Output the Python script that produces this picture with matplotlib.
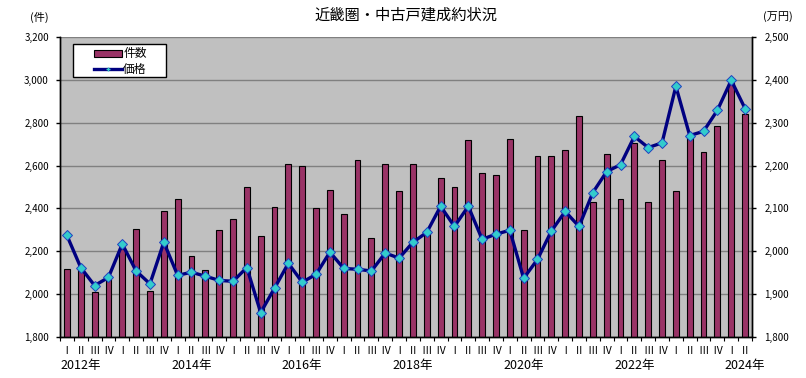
import matplotlib
matplotlib.use("Agg")
import matplotlib.pyplot as plt
from matplotlib.patches import Rectangle, Patch
from matplotlib.lines import Line2D
from matplotlib.ticker import FuncFormatter, MultipleLocator

plt.rcParams['font.family'] = ['Noto Sans CJK JP', 'DejaVu Sans']

years = list(range(2012, 2025))
quarter_labels = ["Ⅰ", "Ⅱ", "Ⅲ", "Ⅳ"]

counts = [2116, 2121, 2009, 2082,
          2210, 2303, 2013, 2387,
          2443, 2177, 2111, 2298,
          2349, 2500, 2270, 2406,
          2607, 2597, 2401, 2485,
          2373, 2625, 2261, 2607,
          2480, 2607, 2285, 2541,
          2502, 2719, 2564, 2555,
          2723, 2298, 2644, 2644,
          2672, 2831, 2429, 2653,
          2444, 2705, 2429, 2625,
          2480, 2740, 2663, 2784,
          2985, 2840]

prices = [2037, 1962, 1920, 1939,
          2017, 1954, 1924, 2021,
          1944, 1951, 1942, 1932,
          1930, 1962, 1857, 1914,
          1972, 1928, 1946, 1998,
          1960, 1958, 1954, 1996,
          1984, 2021, 2044, 2105,
          2058, 2105, 2028, 2040,
          2049, 1937, 1981, 2047,
          2093, 2058, 2137, 2186,
          2202, 2268, 2242, 2253,
          2385, 2270, 2280, 2329,
          2399, 2333]

n = len(counts)
x = list(range(n))
xlabels = [quarter_labels[i % 4] for i in x]
year_label_years = [2012, 2014, 2016, 2018, 2020, 2022, 2024]

W, H = 806, 378
fig = plt.figure(figsize=(W / 100, H / 100), dpi=100)
fig.patch.set_facecolor('white')

L, R, T, B = 60, 752, 37, 337
ax = fig.add_axes([L / W, 1 - B / H, (R - L) / W, (B - T) / H])
ax.set_facecolor('#C0C0C0')
ax2 = ax.twinx()
ax2.patch.set_visible(False)

bar_color = '#993366'
ax.bar(x, counts, width=0.42, color=bar_color, edgecolor='black', linewidth=0.8, zorder=2)
ax.set_ylim(1800, 3200)
ax.set_xlim(-0.5, n - 0.5)
ax.yaxis.set_major_locator(MultipleLocator(200))
ax.yaxis.set_major_formatter(FuncFormatter(lambda v, p: f"{int(v):,}"))
ax.grid(axis='y', color='#808080', linewidth=1.0)
ax.set_axisbelow(True)

ax2.plot(x, prices, color='#000080', linewidth=2.4, marker='D', markersize=5.3,
         markerfacecolor='#33CCCC', markeredgecolor='#2040C0', markeredgewidth=0.7, zorder=3)
ax2.set_ylim(1800, 2500)
ax2.yaxis.set_major_locator(MultipleLocator(100))
ax2.yaxis.set_major_formatter(FuncFormatter(lambda v, p: f"{int(v):,}"))

for a in (ax, ax2):
    a.spines['top'].set_visible(False)
    for s in ('left', 'right', 'bottom'):
        a.spines[s].set_color('black')
        a.spines[s].set_linewidth(1.0)

ax.tick_params(axis='y', direction='out', length=3, width=1, pad=5, labelsize=7, colors='black')
ax2.tick_params(axis='y', direction='out', length=3, width=1, pad=6, labelsize=7, colors='black')

ax.set_xticks(x)
ax.set_xticklabels(xlabels)
ax.tick_params(axis='x', which='major', length=0, pad=6.5, labelsize=7.5)
ax.set_xticks([i - 0.5 for i in range(n + 1)], minor=True)
ax.tick_params(axis='x', which='minor', length=3, width=0.8, direction='out')

for yr in year_label_years:
    idx = (yr - years[0]) * 4 + 1
    if idx < n:
        ax.text(idx, -(366 - B) / (B - T), f"{yr}年", transform=ax.get_xaxis_transform(),
                ha='center', va='center', fontsize=9)

fig.text(406 / W, 1 - 15 / H, "近畿圏・中古戸建成約状況", ha='center', va='center', fontsize=11)
fig.text(39 / W, 1 - 17 / H, "(件)", ha='center', va='center', fontsize=8)
fig.text(778 / W, 1 - 17 / H, "(万円)", ha='center', va='center', fontsize=8)

# legend frame
rect = Rectangle((73 / W, 1 - 77 / H), (166 - 73) / W, (77 - 44) / H, transform=fig.transFigure,
                 facecolor='white', edgecolor='black', linewidth=1.0, zorder=4, clip_on=False)
ax2.add_artist(rect)
handles = [Patch(facecolor=bar_color, edgecolor='black', linewidth=0.8),
           Line2D([], [], color='#000080', linewidth=2.4, marker='+', markersize=3,
                  markeredgecolor='#33CCCC')]
leg = ax2.legend(handles, ["件数", "価格"], loc='upper left', frameon=False,
                 bbox_to_anchor=(92 / W, 1 - 45 / H), bbox_transform=fig.transFigure,
                 fontsize=8.5, handlelength=2.3, handleheight=0.5, handletextpad=0.15,
                 labelspacing=0.2, borderpad=0.2, borderaxespad=0)
leg.set_zorder(5)

fig.savefig("out.png", dpi=100)
